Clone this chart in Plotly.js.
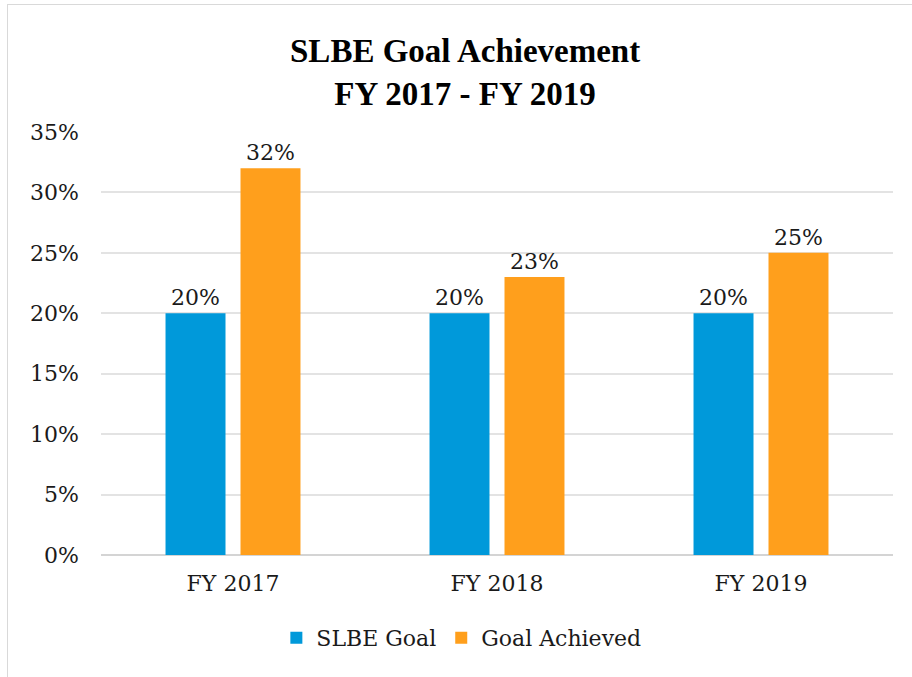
<!DOCTYPE html>
<html>
<head>
<meta charset="utf-8">
<script src="https://cdn.plot.ly/plotly-3.0.1.min.js"></script>
<style>
  html, body { margin: 0; padding: 0; background: #fff; }
  #wrap { position: relative; width: 912px; height: 677px; overflow: hidden; }
  #chart { position: absolute; left: 0; top: 0; width: 912px; height: 677px; }
  #frame { position: absolute; left: 7px; top: 4px; width: 920px; height: 700px; border: 1px solid #d9d9d9; pointer-events: none; }
</style>
</head>
<body>
<div id="wrap">
  <div id="chart"></div>
  <div id="frame"></div>
</div>
<script>
const categories = ["FY 2017", "FY 2018", "FY 2019"];
const slbeGoal = [0.20, 0.20, 0.20];
const goalAchieved = [0.32, 0.23, 0.25];
const seriesNames = ["SLBE Goal", "Goal Achieved"];
const titleText = "<b>SLBE Goal Achievement</b><br><b>FY 2017 - FY 2019</b>";

const serif = "DejaVu Serif";
const textColor = "#1a1a1a";

const traces = [
  {
    type: "bar", name: seriesNames[0], x: categories, y: slbeGoal,
    marker: { color: "#0099DA" },
    texttemplate: "%{y:.0%}", textposition: "outside", cliponaxis: false,
    textfont: { family: serif, size: 22, color: textColor },
    hoverinfo: "skip"
  },
  {
    type: "bar", name: seriesNames[1], x: categories, y: goalAchieved,
    marker: { color: "#FF9F1C" },
    texttemplate: "%{y:.0%}", textposition: "outside", cliponaxis: false,
    textfont: { family: serif, size: 22, color: textColor },
    hoverinfo: "skip"
  }
];

const layout = {
  width: 912, height: 677,
  margin: { l: 101, r: 19, t: 132, b: 122 },
  paper_bgcolor: "rgba(0,0,0,0)",
  plot_bgcolor: "#fff",
  title: {
    text: titleText,
    x: 0.51, xanchor: "center",
    yref: "container",
    y: 0.908, yanchor: "middle",
    font: { family: "Liberation Serif", size: 33, color: "#000" }
  },
  barmode: "group",
  bargap: 0.432,
  bargroupgap: 0.2,
  xaxis: {
    type: "category",
    showgrid: false, zeroline: false, showline: false,
    ticks: "",
    ticklabelstandoff: 13,
    tickfont: { family: serif, size: 22, color: textColor }
  },
  yaxis: {
    range: [0, 0.35], dtick: 0.05, tickformat: ".0%",
    showgrid: true, gridcolor: "#e3e3e3", gridwidth: 2,
    zeroline: true, zerolinecolor: "#d4d4d4", zerolinewidth: 2,
    showline: false, ticks: "",
    ticklabelstandoff: 21,
    tickfont: { family: serif, size: 22, color: textColor }
  },
  showlegend: true,
  legend: {
    orientation: "h",
    x: 0.455, xanchor: "center",
    y: -0.196, yanchor: "middle",
    font: { family: serif, size: 22, color: textColor },
    itemwidth: 30,
    tracegroupgap: 0
  }
};

Plotly.newPlot("chart", traces, layout, { displayModeBar: false, staticPlot: true });
</script>
</body>
</html>
